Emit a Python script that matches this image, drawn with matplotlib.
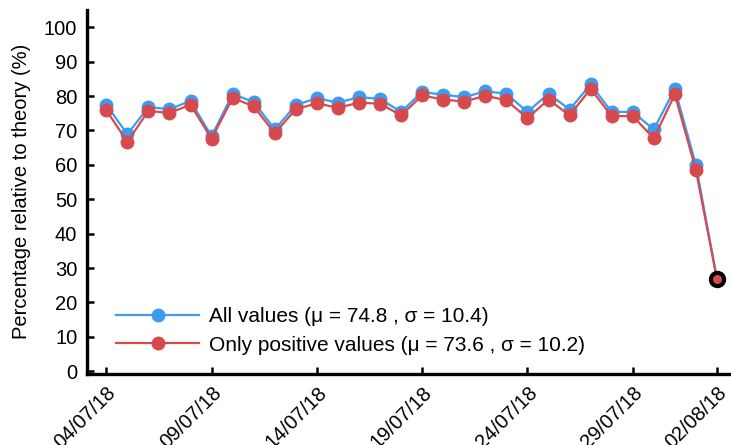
import matplotlib
matplotlib.use("Agg")
import matplotlib.pyplot as plt
import matplotlib.dates as mdates
import numpy as np
import pandas as pd

plt.rcParams['font.family'] = ['Liberation Sans', 'DejaVu Sans']

# daily values, 04/07/18 .. 02/08/18
dates = pd.date_range("2018-07-04", "2018-08-02", freq="D")
all_values = [77.5, 68.9, 76.8, 76.2, 78.6, 68.3, 80.6, 78.3, 70.3, 77.4,
              79.4, 78.1, 79.7, 79.2, 75.4, 81.2, 80.4, 79.7, 81.4, 80.7,
              75.4, 80.7, 76.1, 83.4, 75.4, 75.4, 70.3, 82.1, 60.0, 26.8]
positive_values = [75.9, 66.7, 75.7, 75.1, 77.5, 67.6, 79.5, 77.0, 69.2, 76.2,
                   77.9, 76.6, 78.1, 77.8, 74.4, 80.2, 79.0, 78.4, 80.1, 78.8,
                   73.6, 79.0, 74.4, 82.1, 74.2, 74.2, 67.7, 80.5, 58.5, 26.8]
tick_dates = pd.to_datetime(["2018-07-04", "2018-07-09", "2018-07-14", "2018-07-19",
                             "2018-07-24", "2018-07-29", "2018-08-02"])
labels = ["All values (\u03bc = 74.8 , \u03c3 = 10.4)",
          "Only positive values (\u03bc = 73.6 , \u03c3 = 10.2)"]

blue = "#3b9cf2"
red = "#d64a4e"

fig = plt.figure(figsize=(7.31, 4.45), dpi=100)
ax = fig.add_axes([0.119, 0.16, 0.881, 0.818])

ax.plot(dates, all_values, color=blue, lw=1.6, marker="o", ms=9,
        label=labels[0], clip_on=False)
ax.plot(dates, positive_values, color=red, lw=1.6, marker="o", ms=9,
        label=labels[1], clip_on=False)
# highlight last point
ax.plot(dates[-1:], positive_values[-1:], marker="o", ms=9.5, mfc=red,
        mec="black", mew=3, ls="none", clip_on=False)

ax.set_ylim(-0.75, 105.1)
ax.set_yticks(np.arange(0, 101, 10))
ax.set_xlim(dates[0] - pd.Timedelta(hours=22), dates[-1] + pd.Timedelta(hours=16))
ax.set_xticks(tick_dates)
ax.xaxis.set_major_formatter(mdates.DateFormatter("%d/%m/%y"))
plt.setp(ax.get_xticklabels(), rotation=45, ha="right", rotation_mode="anchor")

ax.set_ylabel("Percentage relative to theory (%)", fontsize=14.5, labelpad=9)
ax.tick_params(direction="in", length=5, width=1.8, labelsize=14.5, pad=7)
ax.spines["top"].set_visible(False)
ax.spines["right"].set_visible(False)
ax.spines["left"].set_linewidth(2.4)
ax.spines["bottom"].set_linewidth(2.4)

ax.legend(loc="lower left", bbox_to_anchor=(0.032, 0.03), borderaxespad=0,
          frameon=False, fontsize=15, handlelength=4.0, handletextpad=0.45,
          labelspacing=0.45)

plt.savefig("out.png")
plt.close()
